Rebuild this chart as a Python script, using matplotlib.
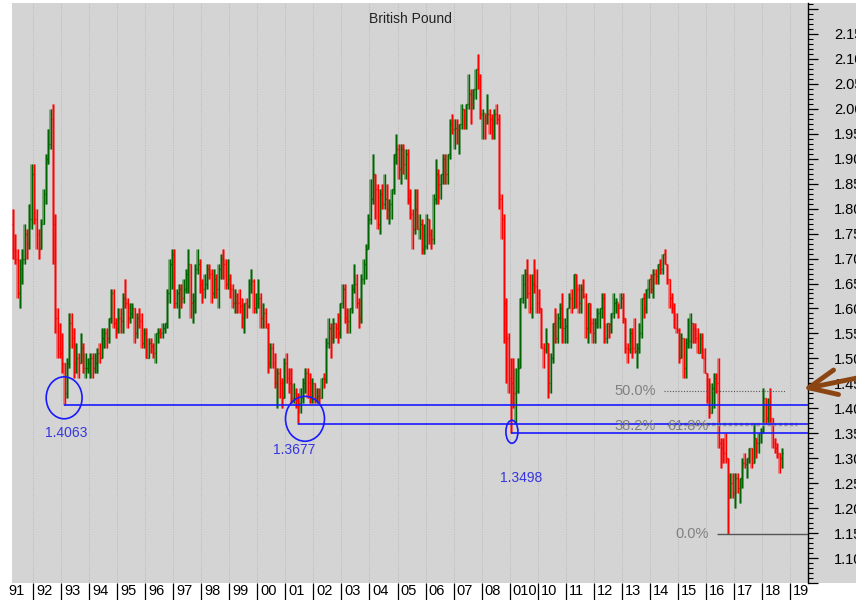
import numpy as np
import matplotlib
matplotlib.use("Agg")
import matplotlib.pyplot as plt
from matplotlib.patches import Ellipse, Rectangle
from matplotlib.ticker import MultipleLocator, FuncFormatter
from matplotlib.transforms import blended_transform_factory

plt.rcParams['font.family'] = ['Liberation Sans', 'DejaVu Sans']

# monthly GBP/USD bars, Apr 1991 - Sep 2018
start_year, start_month = 1991, 4

opens = [
    1.77, 1.72, 1.70, 1.63, 1.68, 1.70, 1.75, 1.73, 1.78,                      # 1991
    1.87, 1.78, 1.75, 1.72, 1.77, 1.83, 1.90, 1.93, 1.98, 1.77, 1.58, 1.52,    # 1992
    1.51, 1.49, 1.43, 1.49, 1.57, 1.54, 1.49, 1.50, 1.49, 1.52, 1.48, 1.48,    # 1993
    1.49, 1.50, 1.48, 1.49, 1.51, 1.50, 1.54, 1.55, 1.54, 1.58, 1.63, 1.57,    # 1994
    1.56, 1.58, 1.575, 1.62, 1.61, 1.58, 1.59, 1.60, 1.55, 1.58, 1.575, 1.53,  # 1995
    1.55, 1.50, 1.53, 1.525, 1.51, 1.55, 1.553, 1.55, 1.56, 1.57, 1.63, 1.69,  # 1996
    1.71, 1.61, 1.63, 1.64, 1.62, 1.64, 1.67, 1.69, 1.61, 1.615, 1.68, 1.69,   # 1997
    1.65, 1.64, 1.65, 1.68, 1.67, 1.63, 1.66, 1.64, 1.68, 1.70, 1.69, 1.65,    # 1998
    1.66, 1.64, 1.61, 1.612, 1.61, 1.605, 1.58, 1.61, 1.605, 1.65, 1.655, 1.60,  # 1999
    1.61, 1.62, 1.58, 1.59, 1.56, 1.49, 1.52, 1.49, 1.45, 1.47, 1.45, 1.42,    # 2000
    1.49, 1.46, 1.45, 1.42, 1.43, 1.42, 1.41, 1.42, 1.45, 1.47, 1.45, 1.42,    # 2001
    1.45, 1.42, 1.425, 1.42, 1.46, 1.458, 1.53, 1.56, 1.54, 1.57, 1.56, 1.55,  # 2002
    1.61, 1.64, 1.58, 1.575, 1.60, 1.64, 1.65, 1.61, 1.58, 1.66, 1.69, 1.72,   # 2003
    1.78, 1.82, 1.87, 1.84, 1.77, 1.83, 1.81, 1.82, 1.80, 1.81, 1.84, 1.91,    # 2004
    1.92, 1.88, 1.92, 1.89, 1.91, 1.82, 1.79, 1.76, 1.80, 1.76, 1.77, 1.72,    # 2005
    1.725, 1.78, 1.75, 1.74, 1.82, 1.87, 1.85, 1.87, 1.90, 1.87, 1.91, 1.97,   # 2006
    1.96, 1.962, 1.96, 1.97, 2.00, 1.98, 2.01, 2.03, 2.01, 2.04, 2.08, 2.06,   # 2007
    1.99, 1.992, 1.99, 1.99, 1.98, 1.97, 1.99, 1.98, 1.82, 1.78, 1.61, 1.54,   # 2008
    1.46, 1.45, 1.43, 1.435, 1.48, 1.62, 1.65, 1.67, 1.63, 1.60, 1.65, 1.645,  # 2009
    1.61, 1.60, 1.52, 1.518, 1.53, 1.45, 1.50, 1.57, 1.54, 1.58, 1.60, 1.56,   # 2010
    1.565, 1.60, 1.62, 1.60, 1.67, 1.64, 1.61, 1.64, 1.625, 1.56, 1.61, 1.57,  # 2011
    1.55, 1.57, 1.59, 1.60, 1.62, 1.54, 1.57, 1.568, 1.59, 1.61, 1.612, 1.60,  # 2012
    1.62, 1.58, 1.52, 1.519, 1.55, 1.52, 1.515, 1.52, 1.55, 1.62, 1.60, 1.64,  # 2013
    1.66, 1.64, 1.67, 1.665, 1.69, 1.68, 1.71, 1.69, 1.66, 1.62, 1.60, 1.56,   # 2014
    1.557, 1.50, 1.54, 1.48, 1.53, 1.535, 1.57, 1.56, 1.54, 1.51, 1.54, 1.50,  # 2015
    1.47, 1.42, 1.39, 1.44, 1.46, 1.45, 1.33, 1.32, 1.31, 1.30, 1.22, 1.25,    # 2016
    1.23, 1.26, 1.24, 1.26, 1.29, 1.288, 1.30, 1.32, 1.29, 1.34, 1.33, 1.35,   # 2017
    1.352, 1.42, 1.38, 1.40, 1.38, 1.33, 1.32, 1.31, 1.30,                     # 2018
]
highs = [
    1.80, 1.75, 1.72, 1.70, 1.72, 1.77, 1.76, 1.81, 1.89,
    1.89, 1.80, 1.76, 1.78, 1.84, 1.91, 1.96, 2.00, 2.01, 1.79, 1.60, 1.57,
    1.55, 1.49, 1.50, 1.59, 1.59, 1.56, 1.53, 1.51, 1.55, 1.53, 1.51, 1.50,
    1.51, 1.51, 1.51, 1.52, 1.53, 1.56, 1.56, 1.56, 1.58, 1.64, 1.64, 1.58,
    1.60, 1.60, 1.63, 1.66, 1.62, 1.61, 1.61, 1.60, 1.59, 1.60, 1.59, 1.56,
    1.56, 1.54, 1.54, 1.53, 1.55, 1.56, 1.56, 1.57, 1.57, 1.64, 1.70, 1.72,
    1.72, 1.64, 1.65, 1.65, 1.66, 1.68, 1.72, 1.69, 1.63, 1.69, 1.72, 1.70,
    1.66, 1.67, 1.69, 1.69, 1.68, 1.68, 1.67, 1.69, 1.71, 1.72, 1.70, 1.70,
    1.67, 1.65, 1.64, 1.63, 1.64, 1.62, 1.61, 1.62, 1.66, 1.68, 1.66, 1.63,
    1.66, 1.63, 1.61, 1.60, 1.57, 1.53, 1.53, 1.51, 1.48, 1.48, 1.46, 1.50,
    1.51, 1.48, 1.48, 1.45, 1.44, 1.43, 1.44, 1.46, 1.48, 1.48, 1.47, 1.46,
    1.45, 1.44, 1.44, 1.46, 1.47, 1.54, 1.58, 1.57, 1.58, 1.57, 1.59, 1.61,
    1.65, 1.65, 1.60, 1.60, 1.65, 1.69, 1.67, 1.62, 1.67, 1.70, 1.73, 1.79,
    1.86, 1.91, 1.87, 1.85, 1.84, 1.85, 1.87, 1.85, 1.82, 1.84, 1.91, 1.95,
    1.93, 1.93, 1.93, 1.92, 1.92, 1.84, 1.80, 1.84, 1.84, 1.79, 1.78, 1.77,
    1.79, 1.78, 1.76, 1.83, 1.90, 1.88, 1.87, 1.91, 1.91, 1.91, 1.98, 1.99,
    1.98, 1.98, 1.97, 2.01, 2.00, 2.01, 2.07, 2.04, 2.04, 2.08, 2.11, 2.07,
    2.00, 1.99, 2.03, 2.00, 1.99, 2.00, 2.01, 1.99, 1.83, 1.79, 1.62, 1.55,
    1.50, 1.50, 1.48, 1.50, 1.62, 1.67, 1.68, 1.70, 1.67, 1.67, 1.70, 1.68,
    1.64, 1.60, 1.53, 1.56, 1.53, 1.51, 1.57, 1.60, 1.59, 1.61, 1.63, 1.58,
    1.60, 1.63, 1.64, 1.67, 1.67, 1.65, 1.65, 1.66, 1.63, 1.61, 1.61, 1.58,
    1.58, 1.60, 1.60, 1.63, 1.63, 1.57, 1.57, 1.59, 1.63, 1.62, 1.61, 1.63,
    1.63, 1.58, 1.53, 1.56, 1.56, 1.58, 1.53, 1.57, 1.62, 1.63, 1.64, 1.66,
    1.67, 1.68, 1.68, 1.69, 1.70, 1.71, 1.72, 1.69, 1.66, 1.63, 1.61, 1.59,
    1.56, 1.55, 1.54, 1.54, 1.58, 1.59, 1.57, 1.57, 1.56, 1.55, 1.55, 1.52,
    1.47, 1.46, 1.45, 1.47, 1.47, 1.50, 1.34, 1.34, 1.35, 1.30, 1.27, 1.27,
    1.27, 1.27, 1.26, 1.30, 1.31, 1.30, 1.32, 1.32, 1.37, 1.34, 1.35, 1.36,
    1.44, 1.42, 1.42, 1.44, 1.38, 1.34, 1.33, 1.31, 1.32,
]
lows = [
    1.70, 1.69, 1.62, 1.60, 1.65, 1.69, 1.70, 1.72, 1.76,
    1.77, 1.72, 1.70, 1.72, 1.77, 1.81, 1.89, 1.92, 1.69, 1.55, 1.50, 1.50,
    1.47, 1.4063, 1.42, 1.48, 1.52, 1.46, 1.47, 1.46, 1.49, 1.47, 1.46, 1.47,
    1.46, 1.46, 1.47, 1.47, 1.49, 1.50, 1.52, 1.52, 1.53, 1.57, 1.56, 1.54,
    1.55, 1.55, 1.55, 1.60, 1.56, 1.57, 1.58, 1.53, 1.54, 1.56, 1.52, 1.52,
    1.50, 1.50, 1.51, 1.50, 1.49, 1.53, 1.54, 1.54, 1.55, 1.56, 1.61, 1.64,
    1.60, 1.60, 1.58, 1.60, 1.61, 1.63, 1.63, 1.58, 1.57, 1.59, 1.67, 1.63,
    1.61, 1.62, 1.64, 1.66, 1.61, 1.62, 1.62, 1.60, 1.66, 1.66, 1.64, 1.64,
    1.62, 1.60, 1.59, 1.59, 1.59, 1.56, 1.55, 1.58, 1.60, 1.63, 1.59, 1.59,
    1.60, 1.56, 1.56, 1.56, 1.47, 1.48, 1.48, 1.44, 1.40, 1.42, 1.40, 1.42,
    1.45, 1.43, 1.41, 1.41, 1.40, 1.3677, 1.39, 1.41, 1.43, 1.42, 1.41, 1.41,
    1.41, 1.41, 1.41, 1.42, 1.44, 1.45, 1.52, 1.50, 1.53, 1.54, 1.53, 1.54,
    1.60, 1.57, 1.55, 1.55, 1.59, 1.63, 1.60, 1.56, 1.57, 1.65, 1.66, 1.72,
    1.77, 1.81, 1.78, 1.76, 1.75, 1.80, 1.80, 1.78, 1.77, 1.78, 1.83, 1.89,
    1.86, 1.85, 1.87, 1.86, 1.81, 1.78, 1.72, 1.75, 1.76, 1.74, 1.71, 1.71,
    1.72, 1.73, 1.72, 1.73, 1.81, 1.81, 1.82, 1.85, 1.85, 1.85, 1.90, 1.95,
    1.92, 1.93, 1.91, 1.96, 1.96, 1.96, 2.00, 1.97, 2.00, 2.02, 2.04, 1.98,
    1.94, 1.94, 1.97, 1.95, 1.94, 1.94, 1.97, 1.80, 1.74, 1.53, 1.45, 1.43,
    1.3498, 1.40, 1.37, 1.43, 1.48, 1.61, 1.60, 1.62, 1.59, 1.58, 1.63, 1.59,
    1.59, 1.52, 1.48, 1.51, 1.42, 1.43, 1.49, 1.53, 1.53, 1.56, 1.53, 1.53,
    1.53, 1.60, 1.59, 1.60, 1.60, 1.59, 1.59, 1.62, 1.54, 1.53, 1.55, 1.53,
    1.53, 1.56, 1.56, 1.58, 1.53, 1.53, 1.54, 1.55, 1.58, 1.59, 1.58, 1.60,
    1.57, 1.51, 1.49, 1.51, 1.50, 1.51, 1.48, 1.51, 1.54, 1.58, 1.59, 1.62,
    1.63, 1.62, 1.65, 1.65, 1.67, 1.67, 1.69, 1.65, 1.60, 1.59, 1.56, 1.55,
    1.49, 1.50, 1.46, 1.46, 1.52, 1.52, 1.53, 1.53, 1.51, 1.51, 1.50, 1.47,
    1.41, 1.38, 1.39, 1.40, 1.43, 1.32, 1.28, 1.29, 1.29, 1.149, 1.22, 1.22,
    1.20, 1.23, 1.21, 1.24, 1.28, 1.26, 1.29, 1.28, 1.29, 1.30, 1.31, 1.33,
    1.35, 1.37, 1.37, 1.37, 1.32, 1.31, 1.30, 1.27, 1.28,
]
closes = [
    1.72, 1.70, 1.63, 1.68, 1.70, 1.75, 1.73, 1.78, 1.87,
    1.78, 1.75, 1.72, 1.77, 1.83, 1.90, 1.93, 1.98, 1.77, 1.58, 1.52, 1.51,
    1.49, 1.43, 1.49, 1.57, 1.54, 1.49, 1.50, 1.49, 1.52, 1.48, 1.48, 1.49,
    1.50, 1.48, 1.49, 1.51, 1.50, 1.54, 1.55, 1.54, 1.58, 1.63, 1.57, 1.56,
    1.58, 1.575, 1.62, 1.61, 1.58, 1.59, 1.60, 1.55, 1.58, 1.575, 1.53, 1.55,
    1.50, 1.53, 1.525, 1.51, 1.55, 1.553, 1.55, 1.56, 1.57, 1.63, 1.69, 1.71,
    1.61, 1.63, 1.64, 1.62, 1.64, 1.67, 1.69, 1.61, 1.615, 1.68, 1.69, 1.65,
    1.64, 1.65, 1.68, 1.67, 1.63, 1.66, 1.64, 1.68, 1.70, 1.69, 1.65, 1.66,
    1.64, 1.61, 1.612, 1.61, 1.605, 1.58, 1.61, 1.605, 1.65, 1.655, 1.60, 1.61,
    1.62, 1.58, 1.59, 1.56, 1.49, 1.52, 1.49, 1.45, 1.47, 1.45, 1.42, 1.49,
    1.46, 1.45, 1.42, 1.43, 1.42, 1.41, 1.42, 1.45, 1.47, 1.45, 1.42, 1.45,
    1.42, 1.425, 1.42, 1.46, 1.458, 1.53, 1.56, 1.54, 1.57, 1.56, 1.55, 1.61,
    1.64, 1.58, 1.575, 1.60, 1.64, 1.65, 1.61, 1.58, 1.66, 1.69, 1.72, 1.78,
    1.82, 1.87, 1.84, 1.77, 1.83, 1.81, 1.82, 1.80, 1.81, 1.84, 1.91, 1.92,
    1.88, 1.92, 1.89, 1.91, 1.82, 1.79, 1.76, 1.80, 1.76, 1.77, 1.72, 1.725,
    1.78, 1.75, 1.74, 1.82, 1.87, 1.85, 1.87, 1.90, 1.87, 1.91, 1.97, 1.96,
    1.962, 1.96, 1.97, 2.00, 1.98, 2.01, 2.03, 2.01, 2.04, 2.08, 2.06, 1.99,
    1.992, 1.99, 1.99, 1.98, 1.97, 1.99, 1.98, 1.82, 1.78, 1.61, 1.54, 1.44,
    1.45, 1.43, 1.435, 1.48, 1.62, 1.65, 1.67, 1.63, 1.60, 1.65, 1.645, 1.61,
    1.60, 1.52, 1.518, 1.53, 1.45, 1.50, 1.57, 1.54, 1.58, 1.60, 1.56, 1.565,
    1.60, 1.62, 1.60, 1.67, 1.64, 1.61, 1.64, 1.625, 1.56, 1.61, 1.57, 1.55,
    1.57, 1.59, 1.60, 1.62, 1.54, 1.57, 1.568, 1.59, 1.61, 1.612, 1.60, 1.62,
    1.58, 1.52, 1.519, 1.55, 1.52, 1.515, 1.52, 1.55, 1.62, 1.60, 1.64, 1.66,
    1.64, 1.67, 1.665, 1.69, 1.68, 1.71, 1.69, 1.66, 1.62, 1.60, 1.56, 1.557,
    1.50, 1.54, 1.48, 1.53, 1.535, 1.57, 1.56, 1.54, 1.51, 1.54, 1.50, 1.47,
    1.42, 1.39, 1.44, 1.46, 1.45, 1.33, 1.32, 1.31, 1.30, 1.22, 1.25, 1.23,
    1.26, 1.24, 1.26, 1.29, 1.288, 1.30, 1.32, 1.29, 1.34, 1.33, 1.35, 1.352,
    1.42, 1.38, 1.40, 1.38, 1.33, 1.32, 1.31, 1.30, 1.31,
]

# support lows and their labels
support_dates = [1993.11, 2001.46, 2009.04]
support_levels = [1.4063, 1.3677, 1.3498]
support_labels = ["1.4063", "1.3677", "1.3498"]

# fibonacci retracement
fib_high, fib_low = 1.719, 1.149
year_labels = ["91", "92", "93", "94", "95", "96", "97", "98", "99", "00", "01", "02",
               "03", "04", "05", "06", "07", "08", "010", "10", "11", "12", "13", "14",
               "15", "16", "17", "18", "19"]

W, H = 856, 600
fig = plt.figure(figsize=(W / 100, H / 100), dpi=100, facecolor="white")
ax = fig.add_axes([12 / W, 17 / H, 796 / W, 580 / H])
bg = "#d4d4d4"
ax.set_facecolor(bg)
fig.patches.append(Rectangle((808 / W, 17 / H), 48 / W, 580 / H, transform=fig.transFigure,
                             facecolor=bg, edgecolor="none", zorder=-5))

o = np.array(opens)
h = np.array(highs)
l = np.array(lows)
c = np.array(closes)
n = len(c)
x = start_year + (np.arange(n) + start_month - 1) / 12 + 1 / 24
col = np.where(c >= o, "#006400", "#ff0000")

ax.vlines(x - 0.012, l, h, colors=col, lw=2.0, alpha=0.45, zorder=3)
ax.vlines(x, l, h, colors=col, lw=1.0, zorder=4)
tk = 1 / 30
ax.hlines(o, x - tk, x, colors=col, lw=1.0, zorder=4)
ax.hlines(c, x, x + tk, colors=col, lw=1.0, zorder=4)

xmin, xmax = 1991.251, 2019.639
ax.set_xlim(xmin, xmax)
ax.set_ylim(1.05, 2.212)

# blue support lines, circles and labels
blue = "#1a1aff"
for d, lev in zip(support_dates, support_levels):
    ax.hlines(lev, d, xmax, colors=blue, lw=1.2, zorder=5)
ax.add_patch(Ellipse((1993.11, 1.421), 1.28, 0.084, fill=False, ec=blue, lw=1.2, zorder=6))
ax.add_patch(Ellipse((2001.70, 1.379), 1.39, 0.090, fill=False, ec=blue, lw=1.2, zorder=6))
ax.add_patch(Ellipse((2009.08, 1.353), 0.43, 0.046, fill=False, ec=blue, lw=1.2, zorder=6))
label_pos = [(1993.18, 1.351), (2001.31, 1.317), (2009.40, 1.261)]
for (tx, ty), s in zip(label_pos, support_labels):
    ax.text(tx, ty, s, color="#3535e0", fontsize=10, ha="center", va="center", zorder=7)

# fibonacci levels
fib_grey = "#808080"
lev50 = fib_low + 0.5 * (fib_high - fib_low)
ax.hlines(lev50, 2014.50, 2018.85, colors="#555555", lw=0.8, linestyles=(0, (1, 1.5)), zorder=5)
ax.hlines(1.369, 2014.60, 2019.25, colors="#9a9a9a", lw=2.5, linestyles=(0, (1, 0.6)), zorder=4)
ax.hlines(fib_low, 2016.39, xmax, colors="#555555", lw=1.0, zorder=5)
ax.text(2012.72, lev50, "50.0%", color=fib_grey, fontsize=10.5, va="center", zorder=7)
ax.text(2012.72, 1.365, "38.2%", color=fib_grey, fontsize=10.5, va="center", zorder=7)
ax.text(2014.61, 1.365, "61.8%", color=fib_grey, fontsize=10.5, va="center", zorder=7)
ax.text(2014.90, fib_low, "0.0%", color=fib_grey, fontsize=10.5, va="center", zorder=7)

ax.text(2005.45, 2.18, "British Pound", fontsize=10, color="#222222", ha="center", va="center")

# x axis: year separators below the plot, labels to the right of each tick
years = np.arange(1992, 2020)
ax.set_xticks(years)
ax.grid(axis="x", color="#b8b8b8", lw=0.7, linestyle=(0, (1, 1.5)), zorder=1)
ax.tick_params(axis="x", length=12.5, width=0.9, color="black", labelbottom=False)
trans = blended_transform_factory(ax.transData, ax.transAxes)
for yr, s in zip(range(1991, 2020), year_labels):
    ax.text(yr + 0.11, -0.0145, s, transform=trans, fontsize=10.5, ha="left", va="center",
            clip_on=False)

# y axis on the right
ax.yaxis.tick_right()
ax.yaxis.set_major_locator(MultipleLocator(0.05))
ax.yaxis.set_minor_locator(MultipleLocator(0.01))
ax.yaxis.set_major_formatter(FuncFormatter(lambda v, _: "" if v < 1.075 or v > 2.175 else f"{v:.2f}"))
ax.tick_params(axis="y", which="major", length=7.2, width=0.9, pad=11.5, labelsize=10.5)
ax.tick_params(axis="y", which="minor", length=3.6, width=0.8)
for side in ["left", "top", "bottom"]:
    ax.spines[side].set_visible(False)
ax.spines["right"].set_linewidth(1.0)

# brown arrow pointing at the 50% level
ax.annotate("", xy=(803 / W, 1 - 389 / H), xycoords="figure fraction",
            xytext=(862 / W, 1 - 377 / H), textcoords="figure fraction",
            arrowprops=dict(arrowstyle="->, head_length=1.0, head_width=0.45", color="#8b4513",
                            lw=3.5, mutation_scale=20, capstyle="round", joinstyle="round",
                            shrinkA=0, shrinkB=0), annotation_clip=False)

fig.savefig("out.png", dpi=100, facecolor="white")
